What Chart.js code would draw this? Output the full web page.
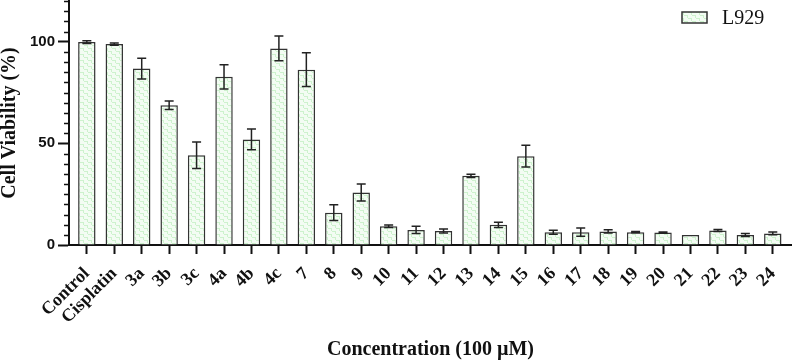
<!DOCTYPE html>
<html>
<head>
<meta charset="utf-8">
<script src="https://cdn.jsdelivr.net/npm/chart.js@4"></script>
<style>
  html, body { margin: 0; padding: 0; background: #fff; }
  #wrap { width: 792px; height: 362px; position: relative; }
</style>
</head>
<body>
<div id="wrap"><canvas id="viabilityChart"></canvas></div>
<script>
const categories = ['Control', 'Cisplatin', '3a', '3b', '3c', '4a', '4b', '4c', '7', '8', '9', '10', '11', '12',
  '13', '14', '15', '16', '17', '18', '19', '20', '21', '22', '23', '24'];
const viability = [99.8, 98.8, 86.8, 68.7, 44.1, 82.7, 51.9, 96.7, 86.2, 15.9, 25.8, 9.2, 7.4, 6.9,
  34.0, 9.9, 43.7, 6.3, 6.3, 6.7, 6.3, 6.1, 4.9, 7.1, 4.9, 5.7];
const viabilitySd = [0.7, 0.6, 5.1, 2.1, 6.5, 6.0, 5.1, 6.1, 8.3, 3.9, 4.2, 0.6, 1.8, 1.0,
  0.8, 1.3, 5.3, 1.0, 2.0, 0.8, 0.3, 0.3, 0, 0.5, 0.7, 0.7];
const yTickLabels = [0, 50, 100];
const seriesName = 'L929';

const axisColor = '#111';

// pale green brick pattern like the original fill
function makePattern() {
  const c = document.createElement('canvas');
  c.width = 8; c.height = 6;
  const g = c.getContext('2d');
  g.fillStyle = '#f3fcf3';
  g.fillRect(0, 0, 8, 6);
  g.fillStyle = '#cdf2cd';
  g.fillRect(0, 0, 3, 1);
  g.fillRect(4, 3, 3, 1);
  g.fillRect(3, 0, 1, 3);
  g.fillRect(7, 3, 1, 3);
  return g.createPattern(c, 'repeat');
}
const barFill = makePattern();

const errorBars = {
  id: 'errorBars',
  afterDatasetsDraw(chart) {
    const { ctx, scales: { x, y } } = chart;
    ctx.save();
    ctx.strokeStyle = '#222';
    ctx.lineWidth = 1.5;
    viability.forEach((v, i) => {
      const sd = viabilitySd[i];
      if (!sd) return;
      const px = x.getPixelForValue(i);
      const top = y.getPixelForValue(v + sd);
      const bot = y.getPixelForValue(v - sd);
      ctx.beginPath();
      ctx.moveTo(px, top); ctx.lineTo(px, bot);
      ctx.moveTo(px - 4.5, top); ctx.lineTo(px + 4.5, top);
      ctx.moveTo(px - 4.5, bot); ctx.lineTo(px + 4.5, bot);
      ctx.stroke();
    });
    ctx.restore();
  }
};

const minorTicks = {
  id: 'minorTicks',
  afterDraw(chart) {
    const { ctx, scales: { y }, chartArea } = chart;
    ctx.save();
    ctx.strokeStyle = axisColor;
    ctx.lineWidth = 1.5;
    for (let v = 5; v <= 120; v += 5) {
      if (v % 50 === 0) continue;
      const py = Math.round(y.getPixelForValue(v)) + 0.5;
      ctx.beginPath();
      ctx.moveTo(chartArea.left - 5, py);
      ctx.lineTo(chartArea.left, py);
      ctx.stroke();
    }
    // legend in the top right corner
    const bx = chartArea.right - 110, by = 12;
    ctx.fillStyle = barFill;
    ctx.fillRect(bx, by, 25, 11);
    ctx.strokeStyle = '#333';
    ctx.lineWidth = 1.5;
    ctx.strokeRect(bx, by, 25, 11);
    ctx.fillStyle = '#111';
    ctx.font = '20px "Liberation Serif"';
    ctx.textBaseline = 'middle';
    ctx.fillText(seriesName, bx + 40, by + 7);
    ctx.restore();
  }
};

const ctx = document.getElementById('viabilityChart').getContext('2d');
new Chart(ctx, {
  type: 'bar',
  data: {
    datasets: [{
      label: seriesName,
      data: viability.map((v, i) => ({ x: i, y: v })),
      backgroundColor: barFill,
      borderColor: '#333',
      borderWidth: 1.5,
      borderSkipped: 'bottom',
      categoryPercentage: 1,
      barPercentage: 0.635
    }]
  },
  options: {
    responsive: true,
    maintainAspectRatio: false,
    animation: false,
    layout: { padding: { top: 1, right: 0, left: 0, bottom: 0 } },
    plugins: {
      legend: { display: false },
      tooltip: { enabled: false }
    },
    scales: {
      x: {
        type: 'linear',
        offset: false,
        min: -0.65,
        max: 25.7,
        afterBuildTicks: (scale) => {
          scale.ticks = categories.map((c, i) => ({ value: i }));
        },
        afterFit: (scale) => {
          scale.height = 117;
          scale.paddingLeft = 0;
          scale.paddingRight = 0;
        },
        ticks: {
          autoSkip: false,
          minRotation: 45,
          maxRotation: 45,
          padding: 7,
          color: axisColor,
          font: { family: 'Liberation Serif', size: 18, weight: 'bold', lineHeight: 1.55 },
          callback: (v) => categories[v]
        },
        grid: {
          offset: false,
          drawOnChartArea: false,
          drawTicks: true,
          tickLength: 9,
          tickWidth: 2,
          tickColor: axisColor
        },
        border: { display: true, color: axisColor, width: 2 },
        title: {
          display: true,
          text: 'Concentration (100 µM)',
          color: axisColor,
          font: { family: 'Liberation Serif', size: 20, weight: 'bold', lineHeight: 1.2 },
          padding: { top: 2, bottom: 0 }
        }
      },
      y: {
        min: 0,
        max: 120,
        afterBuildTicks: (scale) => {
          scale.ticks = yTickLabels.map(v => ({ value: v }));
        },
        afterFit: (scale) => {
          scale.width = 69;
          scale.paddingTop = 0;
          scale.paddingBottom = 0;
        },
        ticks: {
          padding: 3,
          color: axisColor,
          font: { family: 'Liberation Sans', size: 15, weight: 'bold' }
        },
        grid: {
          drawOnChartArea: false,
          drawTicks: true,
          tickLength: 11,
          tickWidth: 2,
          tickColor: axisColor
        },
        border: { display: true, color: axisColor, width: 2 },
        title: {
          display: true,
          text: 'Cell Viability (%)',
          color: axisColor,
          font: { family: 'Liberation Serif', size: 20, weight: 'bold', lineHeight: 1 },
          padding: { top: 0, bottom: 0 }
        }
      }
    }
  },
  plugins: [errorBars, minorTicks]
});
</script>
</body>
</html>
